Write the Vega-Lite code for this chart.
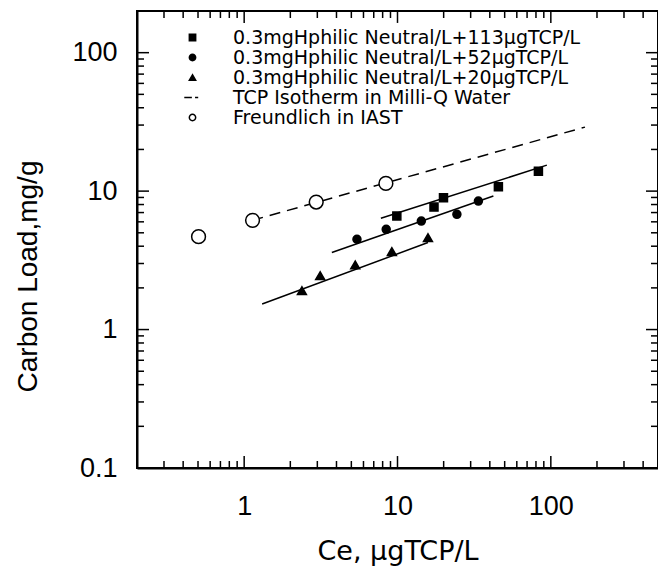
{
  "$schema": "https://vega.github.io/schema/vega-lite/v6.json",
  "autosize": {"type": "none"},
  "width": 521,
  "height": 457,
  "padding": {"left": 137, "top": 11, "right": 0, "bottom": 103},
  "background": "white",
  "config": {
    "view": {"stroke": "black", "strokeWidth": 2},
    "axis": {
      "grid": false,
      "domainColor": "black",
      "domainWidth": 2,
      "labelFont": "Liberation Sans",
      "labelFontSize": 27,
      "labelColor": "black",
      "titleFont": "Liberation Sans",
      "titleFontSize": 28,
      "titleFontWeight": "normal",
      "titleColor": "black"
    },
    "legend": {
      "labelFont": "DejaVu Sans",
      "labelFontSize": 19,
      "labelColor": "black",
      "labelLimit": 0
    }
  },
  "datasets": {
    "points": [
      {"series": "0.3mgHphilic Neutral/L+113μgTCP/L", "ce": 9.9, "load": 6.61},
      {"series": "0.3mgHphilic Neutral/L+113μgTCP/L", "ce": 17.3, "load": 7.67},
      {"series": "0.3mgHphilic Neutral/L+113μgTCP/L", "ce": 19.95, "load": 8.95},
      {"series": "0.3mgHphilic Neutral/L+113μgTCP/L", "ce": 45.5, "load": 10.74},
      {"series": "0.3mgHphilic Neutral/L+113μgTCP/L", "ce": 83, "load": 13.9},
      {"series": "0.3mgHphilic Neutral/L+52μgTCP/L", "ce": 5.44, "load": 4.49},
      {"series": "0.3mgHphilic Neutral/L+52μgTCP/L", "ce": 8.44, "load": 5.3},
      {"series": "0.3mgHphilic Neutral/L+52μgTCP/L", "ce": 14.3, "load": 6.08},
      {"series": "0.3mgHphilic Neutral/L+52μgTCP/L", "ce": 24.4, "load": 6.8},
      {"series": "0.3mgHphilic Neutral/L+52μgTCP/L", "ce": 33.7, "load": 8.47},
      {"series": "0.3mgHphilic Neutral/L+20μgTCP/L", "ce": 2.38, "load": 1.91},
      {"series": "0.3mgHphilic Neutral/L+20μgTCP/L", "ce": 3.13, "load": 2.45},
      {"series": "0.3mgHphilic Neutral/L+20μgTCP/L", "ce": 5.3, "load": 2.93},
      {"series": "0.3mgHphilic Neutral/L+20μgTCP/L", "ce": 9.19, "load": 3.66},
      {"series": "0.3mgHphilic Neutral/L+20μgTCP/L", "ce": 15.8, "load": 4.61},
      {"series": "Freundlich in IAST", "ce": 0.504, "load": 4.69},
      {"series": "Freundlich in IAST", "ce": 1.134, "load": 6.15},
      {"series": "Freundlich in IAST", "ce": 2.95, "load": 8.34},
      {"series": "Freundlich in IAST", "ce": 8.4, "load": 11.36}
    ],
    "fits": [
      {"line": "113", "ce": 7.79, "load": 6.36},
      {"line": "113", "ce": 94.2, "load": 15.4},
      {"line": "52", "ce": 3.73, "load": 3.6},
      {"line": "52", "ce": 42.2, "load": 9.21},
      {"line": "20", "ce": 1.31, "load": 1.53},
      {"line": "20", "ce": 15.8, "load": 4.25}
    ],
    "isotherm": [
      {"line": "TCP", "ce": 1.13, "load": 6.15},
      {"line": "TCP", "ce": 167, "load": 29}
    ],
    "xminor": [
      {"v": 0.3}, {"v": 0.4}, {"v": 0.5}, {"v": 0.6}, {"v": 0.7}, {"v": 0.8}, {"v": 0.9},
      {"v": 2}, {"v": 3}, {"v": 4}, {"v": 5}, {"v": 6}, {"v": 7}, {"v": 8}, {"v": 9},
      {"v": 20}, {"v": 30}, {"v": 40}, {"v": 50}, {"v": 60}, {"v": 70}, {"v": 80}, {"v": 90},
      {"v": 200}, {"v": 300}, {"v": 400}
    ],
    "xmajor": [{"v": 1}, {"v": 10}, {"v": 100}],
    "yminor": [
      {"v": 0.2}, {"v": 0.3}, {"v": 0.4}, {"v": 0.5}, {"v": 0.6}, {"v": 0.7}, {"v": 0.8}, {"v": 0.9},
      {"v": 2}, {"v": 3}, {"v": 4}, {"v": 5}, {"v": 6}, {"v": 7}, {"v": 8}, {"v": 9},
      {"v": 20}, {"v": 30}, {"v": 40}, {"v": 50}, {"v": 60}, {"v": 70}, {"v": 80}, {"v": 90}
    ],
    "ymajor": [{"v": 1}, {"v": 10}, {"v": 100}]
  },
  "layer": [
    {
      "data": {"name": "fits"},
      "mark": {"type": "line", "color": "black", "strokeWidth": 1.5},
      "encoding": {
        "x": {
          "field": "ce", "type": "quantitative",
          "scale": {"type": "log", "domain": [0.2, 500], "nice": false},
          "axis": {
            "orient": "bottom",
            "title": "Ce,  μgTCP/L",
            "titleFont": "DejaVu Sans",
            "titleFontSize": 27,
            "ticks": false,
            "values": [1, 10, 100],
            "format": "~g",
            "labelPadding": 25,
            "titlePadding": 19
          }
        },
        "y": {
          "field": "load", "type": "quantitative",
          "scale": {"type": "log", "domain": [0.1, 200], "nice": false},
          "axis": {
            "orient": "left",
            "title": "Carbon Load,mg/g",
            "ticks": false,
            "values": [0.1, 1, 10, 100],
            "format": "~g",
            "labelPadding": 20,
            "titlePadding": 29,
            "titleY": 265
          }
        },
        "detail": {"field": "line", "type": "nominal"}
      }
    },
    {
      "data": {"name": "xminor"},
      "mark": {"type": "rule", "color": "black", "strokeWidth": 1.5},
      "encoding": {
        "x": {"field": "v", "type": "quantitative", "scale": {"type": "log", "domain": [0.2, 500], "nice": false}, "axis": null},
        "y": {"datum": 0.1, "type": "quantitative", "scale": {"type": "log", "domain": [0.1, 200], "nice": false}, "axis": null},
        "y2": {"datum": 0.1123}
      }
    },
    {
      "data": {"name": "xmajor"},
      "mark": {"type": "rule", "color": "black", "strokeWidth": 1.5},
      "encoding": {
        "x": {"field": "v", "type": "quantitative", "scale": {"type": "log", "domain": [0.2, 500], "nice": false}, "axis": null},
        "y": {"datum": 0.1, "type": "quantitative", "scale": {"type": "log", "domain": [0.1, 200], "nice": false}, "axis": null},
        "y2": {"datum": 0.122}
      }
    },
    {
      "data": {"name": "xminor"},
      "mark": {"type": "rule", "color": "black", "strokeWidth": 1.5},
      "encoding": {
        "x": {"field": "v", "type": "quantitative", "scale": {"type": "log", "domain": [0.2, 500], "nice": false}, "axis": null},
        "y": {"datum": 200, "type": "quantitative", "scale": {"type": "log", "domain": [0.1, 200], "nice": false}, "axis": null},
        "y2": {"datum": 178.1}
      }
    },
    {
      "data": {"name": "xmajor"},
      "mark": {"type": "rule", "color": "black", "strokeWidth": 1.5},
      "encoding": {
        "x": {"field": "v", "type": "quantitative", "scale": {"type": "log", "domain": [0.2, 500], "nice": false}, "axis": null},
        "y": {"datum": 200, "type": "quantitative", "scale": {"type": "log", "domain": [0.1, 200], "nice": false}, "axis": null},
        "y2": {"datum": 164}
      }
    },
    {
      "data": {"name": "yminor"},
      "mark": {"type": "rule", "color": "black", "strokeWidth": 1.5},
      "encoding": {
        "y": {"field": "v", "type": "quantitative", "scale": {"type": "log", "domain": [0.1, 200], "nice": false}, "axis": null},
        "x": {"datum": 0.2, "type": "quantitative", "scale": {"type": "log", "domain": [0.2, 500], "nice": false}, "axis": null},
        "x2": {"datum": 0.2222}
      }
    },
    {
      "data": {"name": "ymajor"},
      "mark": {"type": "rule", "color": "black", "strokeWidth": 1.5},
      "encoding": {
        "y": {"field": "v", "type": "quantitative", "scale": {"type": "log", "domain": [0.1, 200], "nice": false}, "axis": null},
        "x": {"datum": 0.2, "type": "quantitative", "scale": {"type": "log", "domain": [0.2, 500], "nice": false}, "axis": null},
        "x2": {"datum": 0.2395}
      }
    },
    {
      "data": {"name": "yminor"},
      "mark": {"type": "rule", "color": "black", "strokeWidth": 1.5},
      "encoding": {
        "y": {"field": "v", "type": "quantitative", "scale": {"type": "log", "domain": [0.1, 200], "nice": false}, "axis": null},
        "x": {"datum": 500, "type": "quantitative", "scale": {"type": "log", "domain": [0.2, 500], "nice": false}, "axis": null},
        "x2": {"datum": 450}
      }
    },
    {
      "data": {"name": "ymajor"},
      "mark": {"type": "rule", "color": "black", "strokeWidth": 1.5},
      "encoding": {
        "y": {"field": "v", "type": "quantitative", "scale": {"type": "log", "domain": [0.1, 200], "nice": false}, "axis": null},
        "x": {"datum": 500, "type": "quantitative", "scale": {"type": "log", "domain": [0.2, 500], "nice": false}, "axis": null},
        "x2": {"datum": 417.5}
      }
    },
    {
      "data": {"name": "isotherm"},
      "mark": {"type": "line", "color": "black", "strokeWidth": 1.5, "strokeDash": [11, 7]},
      "encoding": {
        "x": {"field": "ce", "type": "quantitative", "scale": {"type": "log", "domain": [0.2, 500], "nice": false}, "axis": null},
        "y": {"field": "load", "type": "quantitative", "scale": {"type": "log", "domain": [0.1, 200], "nice": false}, "axis": null}
      }
    },
    {
      "data": {"name": "points"},
      "mark": {"type": "point", "stroke": "black", "strokeWidth": 1.5, "opacity": 1},
      "encoding": {
        "x": {"field": "ce", "type": "quantitative", "scale": {"type": "log", "domain": [0.2, 500], "nice": false}, "axis": null},
        "y": {"field": "load", "type": "quantitative", "scale": {"type": "log", "domain": [0.1, 200], "nice": false}, "axis": null},
        "shape": {
          "field": "series", "type": "nominal",
          "scale": {
            "domain": ["0.3mgHphilic Neutral/L+113μgTCP/L", "0.3mgHphilic Neutral/L+52μgTCP/L", "0.3mgHphilic Neutral/L+20μgTCP/L", "TCP Isotherm in Milli-Q Water", "Freundlich in IAST"],
            "range": ["square", "circle", "triangle-up", "M-2.6,0H-0.2M0.8,0H1.8", "circle"]
          },
          "legend": {
            "orient": "none", "legendX": 46, "legendY": 17, "title": null,
            "symbolSize": 40, "labelOffset": 31, "rowPadding": 0, "padding": 0,
            "encode": {"symbols": {"update": {"stroke": {"value": "black"}, "strokeWidth": {"value": 1.5}}}}
          }
        },
        "fill": {
          "field": "series", "type": "nominal",
          "scale": {
            "domain": ["0.3mgHphilic Neutral/L+113μgTCP/L", "0.3mgHphilic Neutral/L+52μgTCP/L", "0.3mgHphilic Neutral/L+20μgTCP/L", "TCP Isotherm in Milli-Q Water", "Freundlich in IAST"],
            "range": ["black", "black", "black", "white", "white"]
          },
          "legend": {
            "orient": "none", "legendX": 46, "legendY": 17, "title": null,
            "symbolSize": 40, "labelOffset": 31, "rowPadding": 0, "padding": 0,
            "encode": {"symbols": {"update": {"stroke": {"value": "black"}, "strokeWidth": {"value": 1.5}}}}
          }
        },
        "size": {
          "condition": [
            {"test": "datum.series === 'Freundlich in IAST'", "value": 190},
            {"test": "datum.series === '0.3mgHphilic Neutral/L+20μgTCP/L'", "value": 80}
          ],
          "value": 64
        }
      }
    }
  ],
  "resolve": {"axis": {"x": "independent", "y": "independent"}}
}
